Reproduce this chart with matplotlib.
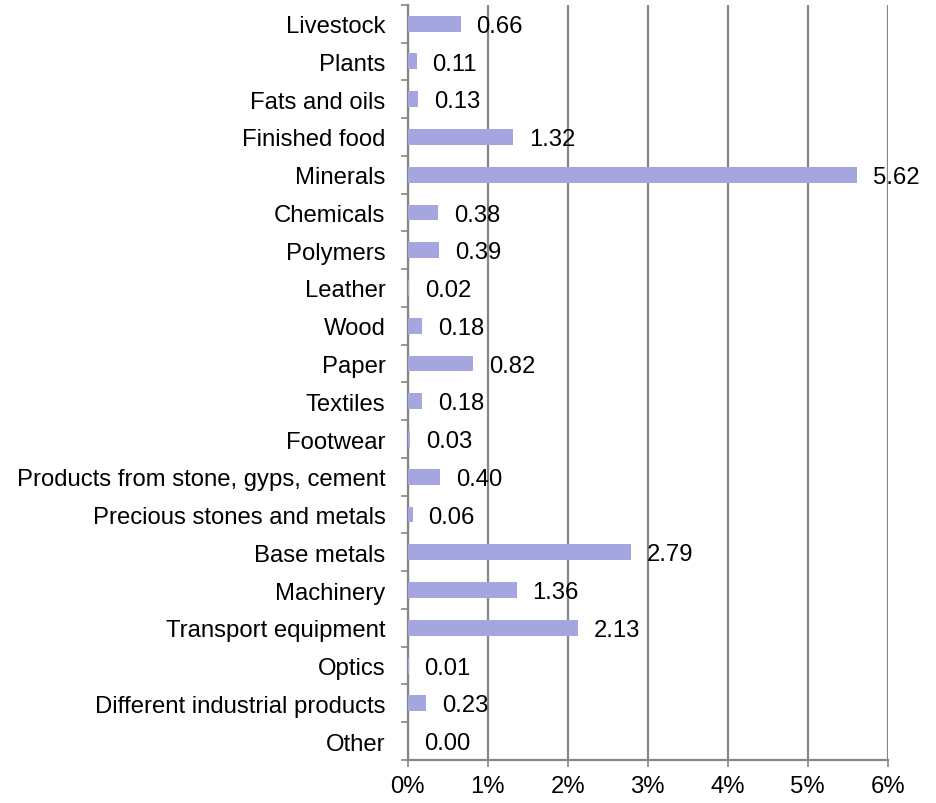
import matplotlib.pyplot as plt
from matplotlib.ticker import FuncFormatter, FixedLocator

plt.rcParams['font.family'] = ['Liberation Sans', 'DejaVu Sans']

categories = ['Livestock', 'Plants', 'Fats and oils', 'Finished food', 'Minerals',
              'Chemicals', 'Polymers', 'Leather', 'Wood', 'Paper', 'Textiles',
              'Footwear', 'Products from stone, gyps, cement',
              'Precious stones and metals', 'Base metals', 'Machinery',
              'Transport equipment', 'Optics', 'Different industrial products', 'Other']
values = [0.66, 0.11, 0.13, 1.32, 5.62, 0.38, 0.39, 0.02, 0.18, 0.82, 0.18,
          0.03, 0.40, 0.06, 2.79, 1.36, 2.13, 0.01, 0.23, 0.00]
xticks = [0, 1, 2, 3, 4, 5, 6]

grid_col = '#868686'
bar_col = '#a5a5e0'
fs = 17.2

fig = plt.figure(figsize=(9.36, 8.04), dpi=100)
ax = fig.add_axes([0.4356, 0.0535, 0.5128, 0.9393])

n = len(categories)
ypos = list(range(n))
ax.barh(ypos, values, height=0.42, color=bar_col, zorder=3)
for y, v in zip(ypos, values):
    ax.annotate(f'{v:.2f}', (v, y), xytext=(11.5, -1.5), textcoords='offset points',
                ha='left', va='center', fontsize=fs, zorder=4)

ax.set_ylim(n - 0.5, -0.5)
ax.set_xlim(0, 6)
ax.set_xticks(xticks)
ax.xaxis.set_major_formatter(FuncFormatter(lambda x, p: f'{x:.0f}%'))
ax.grid(axis='x', color=grid_col, linewidth=1.6, zorder=0)

ax.yaxis.set_major_locator(FixedLocator([i - 0.5 for i in range(n + 1)]))
ax.yaxis.set_major_formatter(FuncFormatter(lambda x, p: ''))
ax.yaxis.set_minor_locator(FixedLocator(ypos))
ax.set_yticklabels(categories, minor=True)
ax.tick_params(axis='y', which='minor', length=0, labelsize=fs, pad=16)
ax.tick_params(axis='y', which='major', length=5, width=1.2, color=grid_col)
ax.tick_params(axis='x', length=5, width=1.2, color=grid_col, labelsize=fs, pad=6)

for s in ['top', 'right']:
    ax.spines[s].set_visible(False)
for s in ['left', 'bottom']:
    ax.spines[s].set_color(grid_col)
    ax.spines[s].set_linewidth(1.6)

fig.savefig('out.png', dpi=100)
